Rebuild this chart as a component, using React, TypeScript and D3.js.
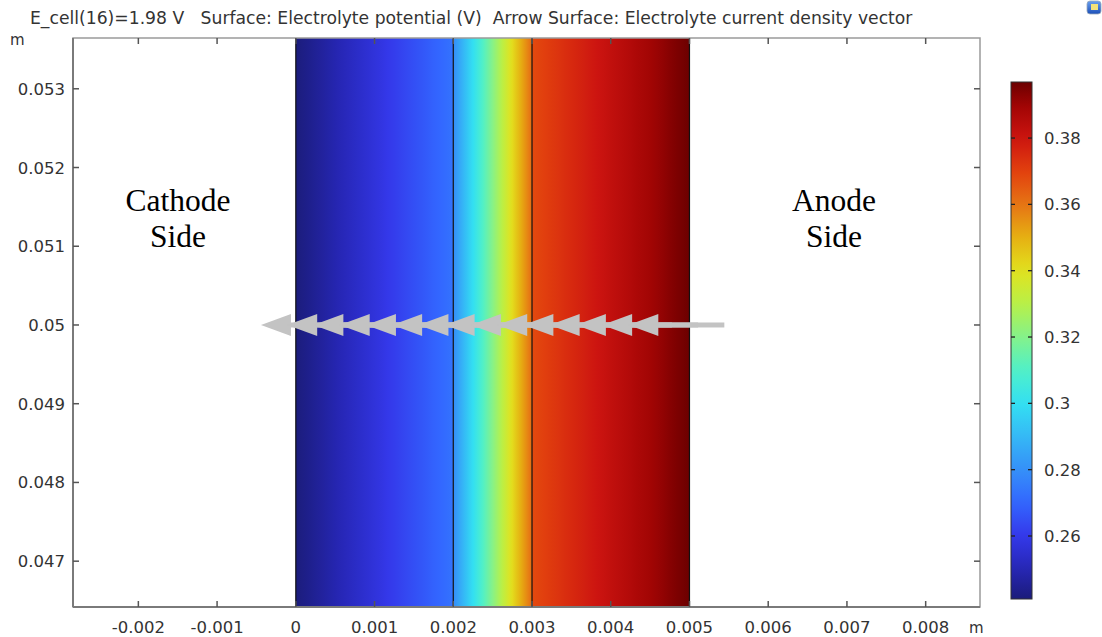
import React from "react";
import * as d3 from "d3";

// ---- Data -----------------------------------------------------------------
const titleText =
  "E_cell(16)=1.98 V   Surface: Electrolyte potential (V)  Arrow Surface: Electrolyte current density vector";

// Domains of the electrolyte layers (m) and potential at each layer's ends (V)
const layerStart = [0, 0.002, 0.003];
const layerEnd = [0.002, 0.003, 0.005];
const layerPhiStart = [0.2412, 0.279, 0.368];
const layerPhiEnd = [0.273, 0.362, 0.3968];

// Arrow grid (m) and x-component of current density (normalized), all at y = 0.05
const arrowX = [
  0.000167, 0.0005, 0.000833, 0.001167, 0.0015, 0.001833, 0.002167, 0.0025,
  0.002833, 0.003167, 0.0035, 0.003833, 0.004167, 0.0045, 0.004833,
];
const arrowU = [-1, -1, -1, -1, -1, -1, -1, -1, -1, -1, -1, -1, -1, -1, -1];
const arrowY = 0.05;

// Axis ticks
const xTicks = [-0.002, -0.001, 0, 0.001, 0.002, 0.003, 0.004, 0.005, 0.006, 0.007, 0.008];
const yTicks = [0.047, 0.048, 0.049, 0.05, 0.051, 0.052, 0.053];
const cbTicks = [0.26, 0.28, 0.3, 0.32, 0.34, 0.36, 0.38];

// Colour table (rainbow) for the potential range
const cmapValues = [0.241, 0.25, 0.26, 0.27, 0.28, 0.29, 0.3, 0.31, 0.32, 0.33, 0.34, 0.35, 0.36, 0.37, 0.38, 0.39, 0.397];
const cmapColors = [
  "#1b1c7a", "#2626b4", "#3438ea", "#3366ff", "#3590f8", "#35b8f6", "#33e0f2",
  "#50f0c8", "#84f28a", "#b8f048", "#e2e21e", "#e6b012", "#e67414", "#e2400e",
  "#cc1410", "#a00404", "#6a0000",
];

// ---- Layout ---------------------------------------------------------------
const W = 1102;
const H = 637;
const plotL = 73;
const plotR = 980;
const plotT = 38;
const plotB = 607;
const cbX0 = 1011;
const cbX1 = 1032;
const cbT = 82;
const cbB = 599;

const FONT = "DejaVu Sans, Verdana, sans-serif";
const LABEL_SIZE = 16.5;

export default function App() {
  const x = d3.scaleLinear().domain([-0.00283, 0.00869]).range([plotL, plotR]);
  const y = d3.scaleLinear().domain([0.046418, 0.053645]).range([plotB, plotT]);
  const cb = d3.scaleLinear().domain([0.241, 0.3969]).range([cbB, cbT]);
  const color = d3
    .scaleLinear<string>()
    .domain(cmapValues)
    .range(cmapColors)
    .interpolate(d3.interpolateRgb)
    .clamp(true);

  const nStops = 24;
  const stops = (v0: number, v1: number) =>
    d3.range(nStops + 1).map((i) => {
      const t = i / nStops;
      return { off: t, c: color(v0 + (v1 - v0) * t) };
    });

  const cbStops = d3.range(41).map((i) => {
    const t = i / 40;
    return { off: t, c: color(0.3969 - (0.3969 - 0.241) * t) };
  });

  // arrow geometry (pixels)
  const arrowLenPx = 96;
  const headLen = 30;
  const headHalf = 11;
  const shaftW = 5;
  const arrowGray = "#c3c3c3";

  const arrows = arrowX.map((ax, i) => {
    const cx = x(ax);
    const cy = y(arrowY);
    const len = arrowLenPx * Math.abs(arrowU[i]);
    const dir = Math.sign(arrowU[i]);
    const tail = cx - (dir * len) / 2;
    const tip = cx + (dir * len) / 2;
    const base = tip - dir * headLen;
    return { cy, tail, tip, base };
  });

  return (
    <svg
      width={W}
      height={H}
      style={{ position: "absolute", left: 0, top: 0, background: "#fff" }}
      fontFamily={FONT}
    >
      <defs>
        {layerStart.map((_, i) => (
          <linearGradient key={i} id={`layer${i}`} x1="0" x2="1" y1="0" y2="0">
            {stops(layerPhiStart[i], layerPhiEnd[i]).map((s, j) => (
              <stop key={j} offset={s.off} stopColor={s.c} />
            ))}
          </linearGradient>
        ))}
        <linearGradient id="cbGrad" x1="0" x2="0" y1="0" y2="1">
          {cbStops.map((s, j) => (
            <stop key={j} offset={s.off} stopColor={s.c} />
          ))}
        </linearGradient>
        <linearGradient id="iconGrad" x1="0" x2="0" y1="0" y2="1">
          <stop offset="0" stopColor="#6aa0f0" />
          <stop offset="1" stopColor="#1c4fb8" />
        </linearGradient>
      </defs>

      {/* title */}
      <text x={30} y={24} fontSize={17.2} fill="#333" style={{ whiteSpace: "pre" }}>
        {titleText}
      </text>

      {/* surface: electrolyte potential */}
      {layerStart.map((x0, i) => (
        <rect
          key={i}
          x={x(x0)}
          y={plotT}
          width={x(layerEnd[i]) - x(x0)}
          height={plotB - plotT}
          fill={`url(#layer${i})`}
        />
      ))}
      {/* domain boundaries */}
      {[0, 0.002, 0.003, 0.005].map((bx) => (
        <line
          key={bx}
          x1={x(bx)}
          x2={x(bx)}
          y1={plotT}
          y2={plotB}
          stroke="#111"
          strokeWidth={1.2}
        />
      ))}

      {/* arrow surface: current density */}
      {arrows.map((a, i) => (
        <g key={i} fill={arrowGray}>
          <rect
            x={Math.min(a.base, a.tail)}
            y={a.cy - shaftW / 2}
            width={Math.abs(a.tail - a.base)}
            height={shaftW}
          />
          <path
            d={`M${a.tip},${a.cy}L${a.base},${a.cy - headHalf}L${a.base},${a.cy + headHalf}Z`}
          />
        </g>
      ))}

      {/* frame */}
      <rect
        x={plotL}
        y={plotT}
        width={plotR - plotL}
        height={plotB - plotT}
        fill="none"
        stroke="#9a9a9a"
        strokeWidth={1.5}
      />
      <line x1={plotL} x2={plotL} y1={plotT} y2={plotB} stroke="#7a7a7a" strokeWidth={2} />
      <line x1={plotL} x2={plotR} y1={plotB} y2={plotB} stroke="#7a7a7a" strokeWidth={2} />

      {/* x ticks (bottom and top) */}
      {xTicks.map((t) => (
        <g key={t}>
          <line x1={x(t)} x2={x(t)} y1={plotB} y2={plotB - 6} stroke="#555" strokeWidth={1.5} />
          <line x1={x(t)} x2={x(t)} y1={plotT} y2={plotT + 6} stroke="#555" strokeWidth={1.5} />
          <text x={x(t)} y={633} fontSize={LABEL_SIZE} fill="#333" textAnchor="middle">
            {String(t)}
          </text>
        </g>
      ))}
      <text x={969} y={633} fontSize={15} fill="#333">
        m
      </text>

      {/* y ticks (left and right) */}
      {yTicks.map((t) => (
        <g key={t}>
          <line x1={plotL} x2={plotL + 6} y1={y(t)} y2={y(t)} stroke="#555" strokeWidth={1.5} />
          <line x1={plotR} x2={plotR - 6} y1={y(t)} y2={y(t)} stroke="#555" strokeWidth={1.5} />
          <text x={65} y={y(t) + 6} fontSize={LABEL_SIZE} fill="#333" textAnchor="end">
            {String(t)}
          </text>
        </g>
      ))}
      <text x={10} y={45} fontSize={15} fill="#333">
        m
      </text>

      {/* region labels */}
      <g fontFamily="Liberation Serif, Times New Roman, serif" fontSize={31.5} fill="#000" textAnchor="middle">
        <text x={178} y={211}>Cathode</text>
        <text x={178} y={247}>Side</text>
        <text x={834} y={211}>Anode</text>
        <text x={834} y={247}>Side</text>
      </g>

      {/* colour legend */}
      <rect x={cbX0} y={cbT} width={cbX1 - cbX0} height={cbB - cbT} fill="url(#cbGrad)" stroke="#333" strokeWidth={1} />
      {cbTicks.map((t) => (
        <g key={t}>
          <line x1={cbX0} x2={cbX0 + 4} y1={cb(t)} y2={cb(t)} stroke="#222" strokeWidth={1.3} />
          <line x1={cbX1} x2={cbX1 - 4} y1={cb(t)} y2={cb(t)} stroke="#222" strokeWidth={1.3} />
          <text x={1044} y={cb(t) + 6} fontSize={LABEL_SIZE} fill="#333">
            {String(t)}
          </text>
        </g>
      ))}

      {/* toolbar icon */}
      <rect x={1087} y={1} width={14} height={13} rx={3} fill="url(#iconGrad)" stroke="#9ab" strokeWidth={0.8} />
      <rect x={1091} y={4} width={7} height={6} fill="#f4e27a" />
    </svg>
  );
}
